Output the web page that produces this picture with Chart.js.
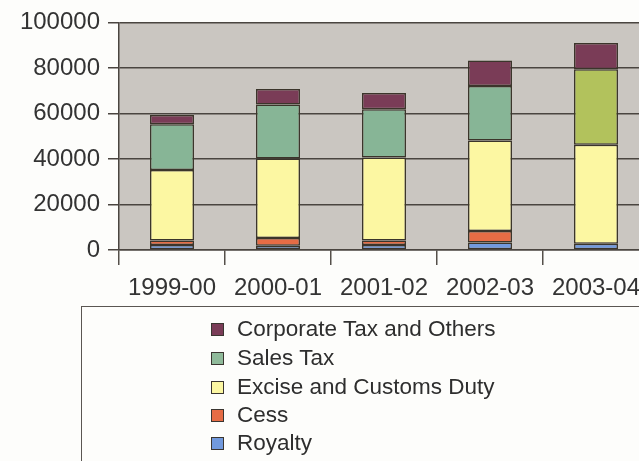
<!DOCTYPE html>
<html>
<head>
<meta charset="utf-8">
<script src="https://cdn.jsdelivr.net/npm/chart.js@4/dist/chart.umd.min.js"></script>
<style>
  html, body { margin: 0; padding: 0; background: #fdfdfb; overflow: hidden; }
  #wrap { position: absolute; left: 0; top: 0; width: 660px; height: 461px; }
  #legend {
    position: absolute; left: 81px; top: 306px; width: 600px; height: 200px;
    border: 1.5px solid #5a5652; box-sizing: border-box;
    font-family: "Liberation Sans", Arial, sans-serif; font-size: 22.5px; color: #2e2e2e;
  }
  .item { position: absolute; left: 129px; height: 28px; line-height: 28px; white-space: nowrap; }
  .swatch {
    position: absolute; left: 0; top: 8px; width: 11px; height: 11px;
    border: 1px solid #3a3530;
  }
  .item span.txt { position: absolute; left: 26px; top: 0; }
</style>
</head>
<body>
<div id="wrap">
  <canvas id="revenueChart" width="660" height="461"></canvas>
  <div id="legend"></div>
</div>
<script>
// ================== DATA ==================
const years = ['1999-00', '2000-01', '2001-02', '2002-03', '2003-04'];

const royalty   = [2200, 1900, 2200, 3300, 2800];
const cess      = [2000, 3400, 2000, 5000, 0];
const excise    = [31000, 34900, 36400, 39800, 43400];
const salesTax  = [20100, 23700, 21200, 24000, 33200];
const corporate = [4000, 6800, 7200, 11200, 11500];

const yTicks = [0, 20000, 40000, 60000, 80000, 100000];

// ================== COLOURS ==================
const edge = '#3b352b';
const colors = {
  royalty: '#7199dd',
  cess: '#e66c45',
  excise: '#fcf7a2',
  sales: ['#87b596', '#87b596', '#87b596', '#87b596', '#b2c25c'],
  corporate: '#7a3c57'
};

// gray plot background
const plotBackground = {
  id: 'plotBackground',
  beforeDraw(chart) {
    const { ctx, chartArea: a } = chart;
    ctx.save();
    ctx.fillStyle = '#cac6c1';
    ctx.fillRect(a.left, a.top, a.right - a.left, a.bottom - a.top);
    ctx.restore();
  }
};

function makeSet(label, data, color) {
  return {
    label, data,
    backgroundColor: color,
    borderColor: edge,
    borderWidth: 1.5,
    borderSkipped: false,
    barPercentage: 0.415,
    categoryPercentage: 1
  };
}

const datasets = [
  makeSet('Royalty', royalty, colors.royalty),
  makeSet('Cess', cess, colors.cess),
  makeSet('Excise and Customs Duty', excise, colors.excise),
  makeSet('Sales Tax', salesTax, colors.sales),
  makeSet('Corporate Tax and Others', corporate, colors.corporate)
];

const font = { family: '"Liberation Sans", Arial, sans-serif', size: 24 };

new Chart(document.getElementById('revenueChart').getContext('2d'), {
  type: 'bar',
  data: { labels: years, datasets },
  options: {
    responsive: false,
    animation: false,
    layout: { padding: { top: 18, right: 11, left: 0, bottom: 0 } },
    plugins: { legend: { display: false }, tooltip: { enabled: false } },
    scales: {
      x: {
        stacked: true,
        grid: { drawOnChartArea: false, color: '#55504a', lineWidth: 1.5, tickLength: 15, offset: true },
        border: { color: '#4a4540', width: 1.5 },
        ticks: { font, color: '#333', padding: 9, maxRotation: 0 },
        afterFit(scale) { scale.height = 211; }
      },
      y: {
        stacked: true,
        min: 0,
        max: 100000,
        afterBuildTicks(scale) { scale.ticks = yTicks.map(v => ({ value: v })); },
        grid: { color: '#4a4540', lineWidth: 1.5, tickLength: 11 },
        border: { color: '#4a4540', width: 1.5 },
        ticks: { font, color: '#333', padding: 8, callback: v => String(v) },
        afterFit(scale) { scale.width = 119; }
      }
    }
  },
  plugins: [plotBackground]
});

// ================== LEGEND ==================
const legendItems = [
  ['Corporate Tax and Others', colors.corporate],
  ['Sales Tax', '#8fba9a'],
  ['Excise and Customs Duty', colors.excise],
  ['Cess', colors.cess],
  ['Royalty', colors.royalty]
];
const legendTops = [8, 37, 66, 94, 122];
const legend = document.getElementById('legend');
legendItems.forEach(([label, color], i) => {
  const item = document.createElement('div');
  item.className = 'item';
  item.style.top = legendTops[i] + 'px';
  item.innerHTML = `<div class="swatch" style="background:${color}"></div><span class="txt">${label}</span>`;
  legend.appendChild(item);
});
</script>
</body>
</html>
